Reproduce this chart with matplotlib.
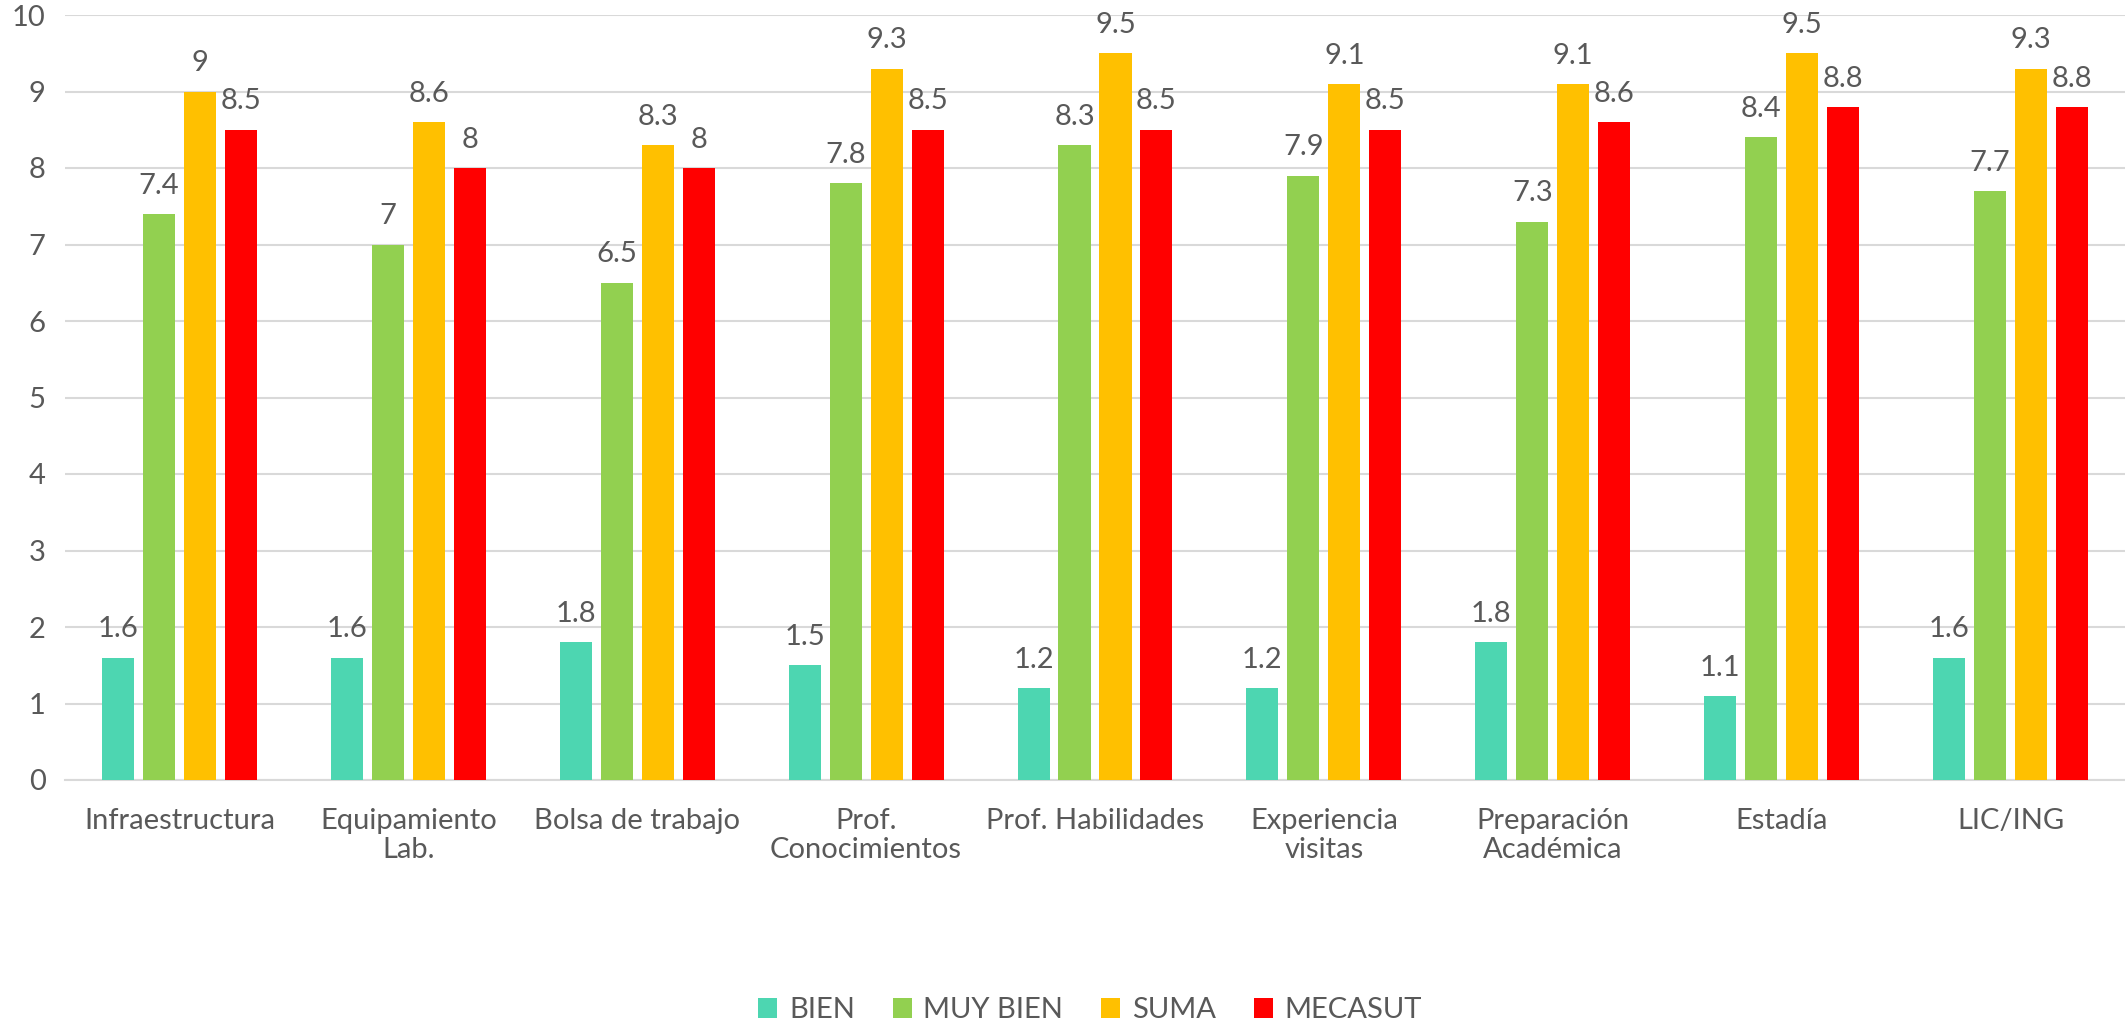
import matplotlib.pyplot as plt
import numpy as np

# Datos
categorias = ["Infraestructura", "Equipamiento\nLab.", "Bolsa de trabajo", "Prof.\nConocimientos",
              "Prof. Habilidades", "Experiencia\nvisitas", "Preparación\nAcadémica", "Estadía", "LIC/ING"]
bien = [1.6, 1.6, 1.8, 1.5, 1.2, 1.2, 1.8, 1.1, 1.6]
muy_bien = [7.4, 7.0, 6.5, 7.8, 8.3, 7.9, 7.3, 8.4, 7.7]
suma = [9.0, 8.6, 8.3, 9.3, 9.5, 9.1, 9.1, 9.5, 9.3]
mecasut = [8.5, 8.0, 8.0, 8.5, 8.5, 8.5, 8.6, 8.8, 8.8]

series = ["BIEN", "MUY BIEN", "SUMA", "MECASUT"]
colores = ["#4DD6B1", "#92D050", "#FFC000", "#FF0000"]
texto = "#595959"

plt.rcParams["font.family"] = ["Lato", "DejaVu Sans"]

fig = plt.figure(figsize=(21.25, 10.31), dpi=100)
ax = fig.add_axes([65 / 2125, 1 - 780 / 1031, 1 - 65 / 2125, (780 - 15) / 1031])

x = np.arange(len(categorias))
paso = 0.179
ancho = 0.14
valores = [bien, muy_bien, suma, mecasut]

for i, (nombre, vals, color) in enumerate(zip(series, valores, colores)):
    pos = x + (i - 1.5) * paso
    barras = ax.bar(pos, vals, width=ancho, color=color, label=nombre, zorder=3)
    for b, v in zip(barras, vals):
        ax.annotate(f"{v:g}", (b.get_x() + b.get_width() / 2, v), xytext=(0, 11),
                    textcoords="offset points", ha="center", va="bottom",
                    fontsize=21, color=texto)

ax.set_xlim(-0.5, len(categorias) - 0.5)
ax.set_ylim(0, 10)
ax.set_yticks(range(0, 11))
ax.set_xticks(x)
ax.set_xticklabels(categorias, linespacing=1.15)
ax.tick_params(axis="both", length=0, labelsize=21, colors=texto)
ax.tick_params(axis="x", pad=20)
ax.tick_params(axis="y", pad=14)
ax.grid(axis="y", color="#D9D9D9", linewidth=1.5, zorder=0)
for lado in ["top", "right", "left"]:
    ax.spines[lado].set_visible(False)
ax.spines["bottom"].set_color("#D9D9D9")
ax.spines["bottom"].set_linewidth(1.5)

fig.legend(loc="center", bbox_to_anchor=(0.513, 0.02), ncol=4, frameon=False,
           fontsize=21, labelcolor=texto, handlelength=0.65, handleheight=0.65,
           handletextpad=0.4, columnspacing=1.3)

plt.savefig("out.png", dpi=100)
